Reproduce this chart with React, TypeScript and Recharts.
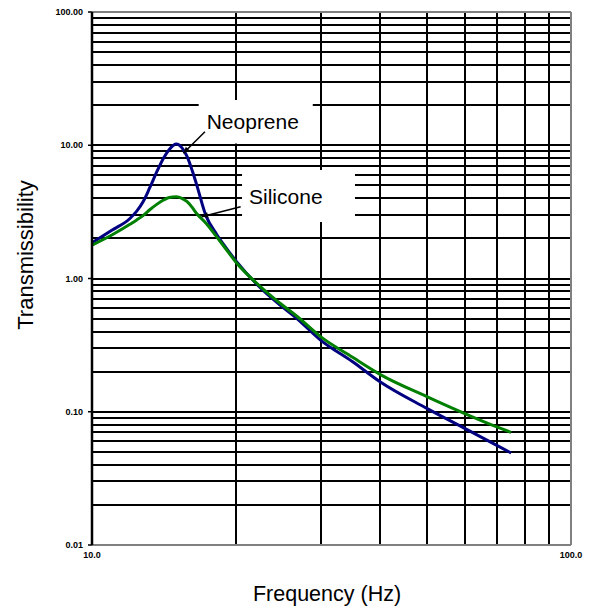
import React from 'react';
import { LineChart, Line, XAxis, YAxis, CartesianGrid, ReferenceLine, ReferenceArea } from 'recharts';

const freq = [10, 11, 12, 12.4, 12.8, 13.2, 13.65, 14.1, 14.5, 15, 15.4, 15.8, 16.2, 16.5, 17.3, 18.2, 19, 20, 22.8, 25, 26.7, 30, 35, 40, 50, 60, 70, 75];
const neoprene = [1.85, 2.3, 2.82, 3.2, 3.8, 4.8, 6.3, 8.0, 9.3, 10.2, 9.6, 8.2, 6.4, 5.2, 2.95, 2.15, 1.72, 1.35, 0.81, 0.61, 0.505, 0.345, 0.237, 0.167, 0.106, 0.075, 0.056, 0.049];
const silicone = [1.78, 2.12, 2.55, 2.75, 2.98, 3.28, 3.6, 3.88, 4.05, 4.1, 4.0, 3.77, 3.4, 3.1, 2.6, 2.06, 1.68, 1.32, 0.83, 0.63, 0.525, 0.366, 0.256, 0.19, 0.13, 0.097, 0.077, 0.07];

const xTicks = [10, 100];
const yTicks = [0.01, 0.1, 1, 10, 100];
const xDomain = [10, 100];
const yDomain = [0.01, 100];
const gridX = [20, 30, 40, 50, 60, 70, 80, 90];
const gridY = [
  0.02, 0.03, 0.04, 0.05, 0.06, 0.07, 0.08, 0.09,
  0.1, 0.2, 0.3, 0.4, 0.5, 0.6, 0.7, 0.8, 0.9,
  1, 2, 3, 4, 5, 6, 7, 8, 9,
  10, 20, 30, 40, 50, 60, 70, 80, 90,
];

const data = freq.map((f, i) => ({ f, neoprene: neoprene[i], silicone: silicone[i] }));

const FONT = 'Liberation Sans, Arial, sans-serif';
const tickStyle = { fill: '#000', fontSize: 9, fontWeight: 'bold', fontFamily: FONT };

// pointer line with a filled head at the (x2, y2) end
const Arrow = (props: any) => {
  const { x1, y1, x2, y2 } = props;
  const ang = Math.atan2(y2 - y1, x2 - x1);
  const len = 7;
  const w = 0.42;
  const ax = x2 - len * Math.cos(ang - w);
  const ay = y2 - len * Math.sin(ang - w);
  const bx = x2 - len * Math.cos(ang + w);
  const by = y2 - len * Math.sin(ang + w);
  return (
    <g>
      <line x1={x1} y1={y1} x2={x2} y2={y2} stroke="#000" strokeWidth={1.5} />
      <polygon points={`${x2},${y2} ${ax},${ay} ${bx},${by}`} fill="#000" />
    </g>
  );
};

const boxLabel = (text: string, dx: number) => ({
  content: (p: any) => (
    <text
      x={p.viewBox.x + dx}
      y={p.viewBox.y + p.viewBox.height / 2}
      dominantBaseline="central"
      fontSize={21}
      fontFamily={FONT}
      fill="#000"
    >
      {text}
    </text>
  ),
});

// log-decade grid positions inside the plot box, snapped to whole pixels
const logPos = (v: number, d: number[]) =>
  (Math.log10(v) - Math.log10(d[0])) / (Math.log10(d[1]) - Math.log10(d[0]));
const hGrid = ({ offset }: any) =>
  gridY.map((v) => Math.round(offset.top + offset.height * (1 - logPos(v, yDomain))));
const vGrid = ({ offset }: any) =>
  gridX.map((v) => Math.round(offset.left + offset.width * logPos(v, xDomain)));

export default function App() {
  return (
    <div style={{ position: 'absolute', left: 0, top: 0, background: '#fff' }}>
      <LineChart width={595} height={606} data={data} margin={{ top: 12, right: 24, left: 12, bottom: 31 }}>
        <CartesianGrid
          stroke="#000"
          strokeWidth={2}
          horizontalCoordinatesGenerator={hGrid}
          verticalCoordinatesGenerator={vGrid}
        />
        <XAxis
          dataKey="f"
          type="number"
          scale="log"
          domain={xDomain}
          ticks={xTicks}
          allowDataOverflow
          tickFormatter={(v: number) => v.toFixed(1)}
          tickLine={false}
          tickSize={4}
          tickMargin={3}
          height={30}
          axisLine={{ stroke: '#808080', strokeWidth: 2 }}
          tick={tickStyle}
          label={{
            content: () => (
              <text x={327} y={601} textAnchor="middle" fontSize={21.5} fontFamily={FONT} fill="#000">
                Frequency (Hz)
              </text>
            ),
          }}
        />
        <YAxis
          type="number"
          scale="log"
          domain={yDomain}
          ticks={yTicks}
          allowDataOverflow
          tickFormatter={(v: number) => v.toFixed(2)}
          width={80}
          tickSize={4}
          tickMargin={5}
          axisLine={{ stroke: '#000', strokeWidth: 2.5 }}
          tickLine={{ stroke: '#000', strokeWidth: 1.5 }}
          tick={tickStyle}
          label={{
            content: () => (
              <text
                x={33}
                y={255}
                transform="rotate(-90, 33, 255)"
                textAnchor="middle"
                fontSize={22}
                fontFamily={FONT}
                fill="#000"
              >
                Transmissibility
              </text>
            ),
          }}
        />
        <ReferenceLine y={100} stroke="#808080" strokeWidth={2} />
        <ReferenceLine x={100} stroke="#808080" strokeWidth={2} />

        <ReferenceArea x1={16.7} x2={28.9} y1={10.3} y2={21.9} fill="#fff" fillOpacity={1} stroke="none" label={boxLabel('Neoprene', 8)} />
        <ReferenceArea x1={20.57} x2={35.4} y1={2.65} y2={6.52} fill="#fff" fillOpacity={1} stroke="none" label={boxLabel('Silicone', 7)} />

        <Line dataKey="neoprene" type="monotone" stroke="#000080" strokeWidth={3} dot={false} isAnimationActive={false} />
        <Line dataKey="silicone" type="monotone" stroke="#008000" strokeWidth={3} dot={false} isAnimationActive={false} />

        <ReferenceLine segment={[{ x: 17.21, y: 12.64 }, { x: 15.51, y: 8.7 }]} shape={(p: any) => <Arrow {...p} />} />
        <ReferenceLine segment={[{ x: 20.43, y: 3.46 }, { x: 16.94, y: 2.91 }]} shape={(p: any) => <Arrow {...p} />} />
      </LineChart>
    </div>
  );
}
